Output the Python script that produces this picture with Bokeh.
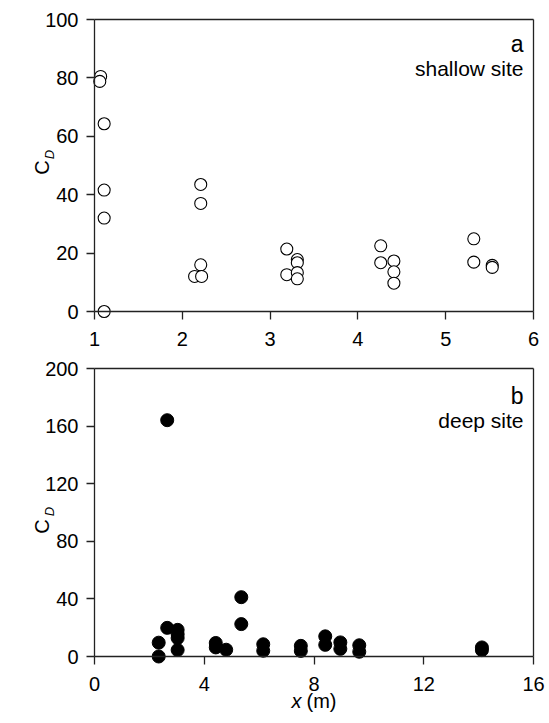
import math
from bokeh.plotting import figure
from bokeh.models import FixedTicker, Label, LinearAxis, Range1d
from bokeh.layouts import column
from bokeh.embed import file_html
from bokeh.resources import INLINE

# ---------------- data ----------------
# panel a: shallow site
shallow_x = [1.07, 1.06, 1.11, 1.11, 1.11, 1.11,
             2.21, 2.21, 2.21, 2.14, 2.22,
             3.19, 3.31, 3.31, 3.19, 3.31, 3.31,
             4.26, 4.26, 4.41, 4.41, 4.41,
             5.32, 5.32, 5.53, 5.53]
shallow_cd = [80.5, 78.8, 64.3, 41.6, 32.0, 0.0,
              43.5, 37.0, 16.0, 12.0, 12.0,
              21.4, 17.8, 16.7, 12.6, 13.3, 11.2,
              22.5, 16.7, 17.3, 13.6, 9.7,
              24.9, 16.9, 15.8, 15.1]

# panel b: deep site
deep_x = [2.65, 5.35, 5.35, 2.65, 2.34, 2.34,
          3.03, 3.03, 3.03, 3.03, 4.42, 4.42, 4.80,
          6.15, 6.15, 7.52, 7.52, 8.41, 8.41, 8.96, 8.96,
          9.65, 9.65, 14.12, 14.12]
deep_cd = [164.1, 41.2, 22.5, 19.9, 9.6, 0.0,
           18.5, 15.5, 12.8, 4.5, 9.4, 6.3, 4.7,
           8.5, 4.0, 7.4, 3.9, 14.0, 8.1, 9.8, 5.3,
           7.8, 3.3, 6.3, 4.4]

a_xticks = [1, 2, 3, 4, 5, 6]
a_yticks = [0, 20, 40, 60, 80, 100]
b_xticks = [0, 4, 8, 12, 16]
b_yticks = [0, 40, 80, 120, 160, 200]

FONT = "Liberation Sans"
W = 549
AX_L, AX_R = 94, 533      # pixel columns of the x limits
LINE = "#222222"
LW = 1.3


def style_axis(ax, ticks, standoff, labels=True):
    ax.ticker = FixedTicker(ticks=ticks)
    ax.axis_line_color = LINE
    ax.axis_line_width = LW
    ax.major_tick_line_color = LINE
    ax.major_tick_line_width = LW
    ax.major_tick_out = 8
    ax.major_tick_in = 0
    ax.minor_tick_line_color = None
    ax.major_label_text_font = FONT
    ax.major_label_text_font_size = "20px"
    ax.major_label_text_color = "black" if labels else None
    ax.major_label_standoff = standoff


def panel(xs, ys, xlim, ylim, xticks, yticks, fig_h, zero_px, top_px, filled,
          tag, site, tag_dy, site_dy, c_cx, c_cy, d_cx, d_cy, xlabel=False):
    ppx = (AX_R - AX_L) / (xlim[1] - xlim[0])
    ppy = (zero_px - top_px) / (ylim[1] - ylim[0])
    x_range = Range1d(xlim[0] - AX_L / ppx, xlim[1] + (W - AX_R) / ppx)
    y_range = Range1d(ylim[0] - (fig_h - zero_px) / ppy, ylim[1] + top_px / ppy)
    p = figure(width=W, height=fig_h, x_range=x_range, y_range=y_range,
               x_axis_location=None, y_axis_location=None,
               min_border=0, min_border_left=0, min_border_right=0,
               min_border_top=0, min_border_bottom=0,
               output_backend="svg", toolbar_location=None,
               background_fill_color="white", border_fill_color="white")
    p.outline_line_color = None
    p.grid.visible = False

    xa = LinearAxis(fixed_location=ylim[0], bounds=xlim)
    style_axis(xa, xticks, 12)
    p.add_layout(xa, "below")
    ya = LinearAxis(fixed_location=xlim[0], bounds=ylim)
    style_axis(ya, yticks, 8)
    p.add_layout(ya, "left")
    # frame box: top and right edges
    ta = LinearAxis(fixed_location=ylim[1], bounds=xlim)
    style_axis(ta, [], 0, labels=False)
    p.add_layout(ta, "above")
    ra = LinearAxis(fixed_location=xlim[1], bounds=ylim)
    style_axis(ra, [], 0, labels=False)
    p.add_layout(ra, "right")

    if filled:
        p.scatter(xs, ys, size=13, marker="circle", fill_color="black",
                  line_color="black", line_width=1)
    else:
        p.scatter(xs, ys, size=12, marker="circle", fill_color="white",
                  line_color="black", line_width=1.1)

    p.add_layout(Label(x=xlim[1], y=ylim[1], x_offset=-10, y_offset=-tag_dy,
                       text=tag, text_align="right", text_baseline="alphabetic",
                       text_font=FONT, text_font_size="23px", text_color="black"))
    p.add_layout(Label(x=xlim[1], y=ylim[1], x_offset=-10, y_offset=-site_dy,
                       text=site, text_align="right", text_baseline="alphabetic",
                       text_font=FONT, text_font_size="21px", text_color="black"))

    # y axis label  C_D  (rotated), anchored to the axis origin
    p.add_layout(Label(x=xlim[0], y=ylim[0], x_offset=c_cx - AX_L,
                       y_offset=zero_px - c_cy, angle=math.pi / 2, text="C",
                       text_align="center", text_baseline="middle",
                       text_font=FONT, text_font_size="20px", text_color="black"))
    p.add_layout(Label(x=xlim[0], y=ylim[0], x_offset=d_cx - AX_L,
                       y_offset=zero_px - d_cy, angle=math.pi / 2, text="D",
                       text_align="center", text_baseline="middle",
                       text_font=FONT, text_font_style="italic",
                       text_font_size="13px", text_color="black"))
    if xlabel:
        p.add_layout(Label(x=xlim[0], y=ylim[0], x_offset=291 - AX_L, y_offset=-44,
                           text="x", text_align="left", text_baseline="alphabetic",
                           text_font=FONT, text_font_style="italic",
                           text_font_size="20px", text_color="black"))
        p.add_layout(Label(x=xlim[0], y=ylim[0], x_offset=306 - AX_L, y_offset=-44,
                           text="(m)", text_align="left", text_baseline="alphabetic",
                           text_font=FONT, text_font_size="20px", text_color="black"))
    return p


pa = panel(shallow_x, shallow_cd, (1, 6), (0, 100), a_xticks, a_yticks,
           fig_h=350, zero_px=311, top_px=19, filled=False,
           tag="a", site="shallow site", tag_dy=24, site_dy=49,
           c_cx=41, c_cy=167, d_cx=49, d_cy=154)
pb = panel(deep_x, deep_cd, (0, 16), (0, 200), b_xticks, b_yticks,
           fig_h=373, zero_px=306, top_px=18, filled=True,
           tag="b", site="deep site", tag_dy=27, site_dy=52,
           c_cx=41, c_cy=176, d_cx=49, d_cy=161, xlabel=True)

layout = column(pa, pb, spacing=0)
open("out.html", "w").write(file_html(layout, INLINE))
